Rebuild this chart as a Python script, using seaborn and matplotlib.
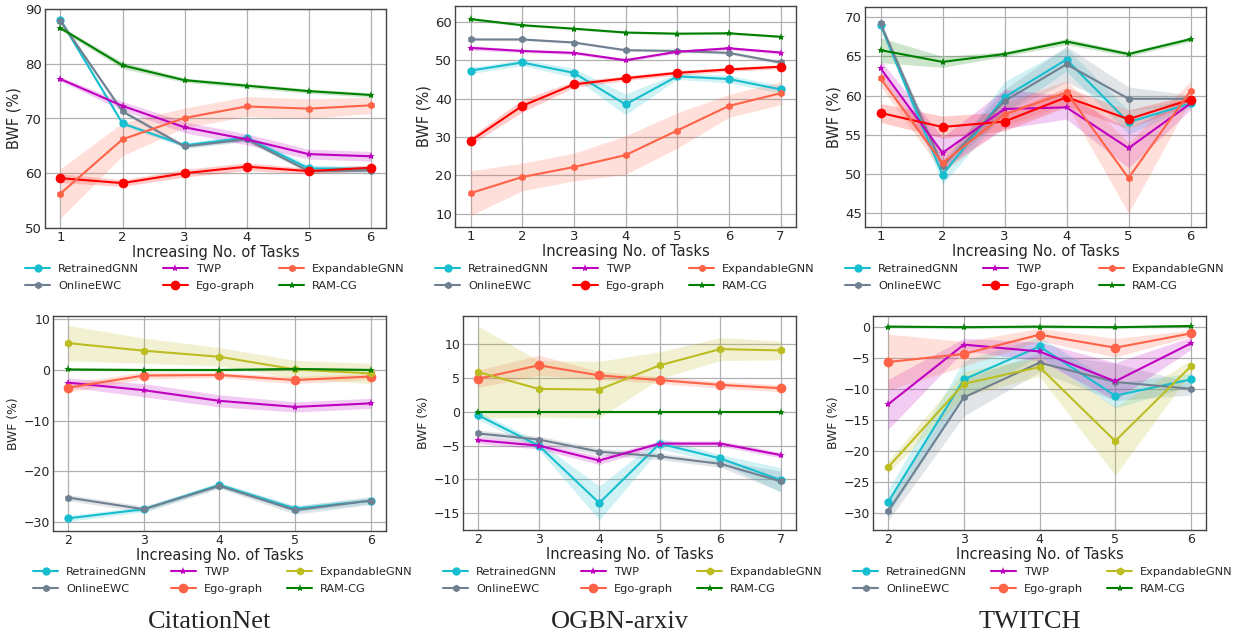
import numpy as np
import pandas as pd
import matplotlib
matplotlib.use("Agg")
import matplotlib.pyplot as plt
import seaborn as sns

methods = ["RetrainedGNN", "OnlineEWC", "TWP", "Ego-graph", "ExpandableGNN", "RAM-CG"]

# ---- top row: BWF per task ----
cn_tasks = [1, 2, 3, 4, 5, 6]
cn_mean = {
    "RetrainedGNN": [88.0, 69.1, 65.1, 66.5, 60.9, 60.8],
    "OnlineEWC": [87.8, 71.3, 64.9, 66.2, 60.4, 60.5],
    "TWP": [77.2, 72.3, 68.4, 66.2, 63.5, 63.1],
    "Ego-graph": [59.1, 58.2, 60.0, 61.2, 60.4, 61.0],
    "ExpandableGNN": [56.3, 66.2, 70.1, 72.2, 71.8, 72.4],
    "RAM-CG": [86.5, 79.7, 77.0, 76.0, 75.0, 74.3],
}
cn_std = {
    "RetrainedGNN": [0.4, 0.4, 0.4, 0.6, 0.6, 0.5],
    "OnlineEWC": [0.4, 0.4, 0.4, 0.4, 0.4, 0.4],
    "TWP": [0.4, 0.8, 1.0, 1.0, 0.9, 0.9],
    "Ego-graph": [0.8, 0.6, 0.7, 0.7, 0.5, 0.5],
    "ExpandableGNN": [4.5, 3.0, 1.8, 1.8, 1.8, 1.5],
    "RAM-CG": [0.4, 0.6, 0.4, 0.4, 0.4, 0.4],
}

arx_tasks = [1, 2, 3, 4, 5, 6, 7]
arx_mean = {
    "RetrainedGNN": [47.3, 49.4, 46.7, 38.5, 45.8, 45.1, 42.4],
    "OnlineEWC": [55.4, 55.4, 54.6, 52.6, 52.4, 51.9, 49.4],
    "TWP": [53.2, 52.4, 51.9, 50.0, 52.2, 53.1, 52.0],
    "Ego-graph": [29.0, 38.1, 43.7, 45.3, 46.7, 47.6, 48.3],
    "ExpandableGNN": [15.4, 19.6, 22.2, 25.3, 31.7, 38.1, 41.4],
    "RAM-CG": [60.7, 59.1, 58.2, 57.2, 56.9, 57.0, 56.1],
}
arx_std = {
    "RetrainedGNN": [0.8, 0.8, 1.2, 2.7, 0.8, 1.0, 1.0],
    "OnlineEWC": [0.3, 0.3, 0.3, 0.3, 0.3, 0.4, 0.5],
    "TWP": [0.6, 0.4, 0.4, 0.4, 0.4, 0.4, 0.4],
    "Ego-graph": [1.0, 1.6, 0.8, 0.6, 0.6, 0.5, 0.5],
    "ExpandableGNN": [5.8, 3.6, 3.6, 5.0, 4.6, 3.0, 3.0],
    "RAM-CG": [0.4, 0.3, 0.3, 0.3, 0.3, 0.3, 0.3],
}

tw_tasks = [1, 2, 3, 4, 5, 6]
tw_mean = {
    "RetrainedGNN": [69.0, 49.9, 59.8, 64.6, 56.6, 59.0],
    "OnlineEWC": [69.2, 51.0, 59.3, 64.0, 59.6, 59.6],
    "TWP": [63.5, 52.7, 58.3, 58.5, 53.3, 59.0],
    "Ego-graph": [57.8, 56.0, 56.7, 59.8, 57.0, 59.5],
    "ExpandableGNN": [62.2, 51.4, 57.6, 60.4, 49.5, 60.6],
    "RAM-CG": [65.8, 64.3, 65.3, 66.9, 65.3, 67.2],
}
tw_std = {
    "RetrainedGNN": [0.3, 1.2, 2.0, 1.5, 1.5, 0.5],
    "OnlineEWC": [0.3, 0.8, 1.5, 2.3, 1.5, 0.5],
    "TWP": [1.0, 2.0, 2.5, 1.5, 2.5, 0.8],
    "Ego-graph": [1.2, 1.4, 1.2, 1.2, 1.2, 0.6],
    "ExpandableGNN": [1.0, 1.2, 1.5, 1.5, 4.5, 1.2],
    "RAM-CG": [1.6, 0.7, 0.3, 0.4, 0.3, 0.3],
}

# ---- bottom row: BWF after each new task ----
cn2_tasks = [2, 3, 4, 5, 6]
cn2_mean = {
    "RetrainedGNN": [-29.3, -27.5, -22.7, -27.4, -25.8],
    "OnlineEWC": [-25.2, -27.5, -22.9, -27.7, -25.8],
    "TWP": [-2.5, -4.0, -6.1, -7.3, -6.6],
    "Ego-graph": [-3.5, -1.1, -1.0, -2.0, -1.3],
    "ExpandableGNN": [5.3, 3.8, 2.6, 0.1, -0.7],
    "RAM-CG": [0.1, 0.0, 0.0, 0.2, 0.0],
}
cn2_std = {
    "RetrainedGNN": [0.6, 0.5, 0.5, 0.6, 0.6],
    "OnlineEWC": [0.6, 0.6, 0.5, 0.8, 0.8],
    "TWP": [0.9, 1.3, 1.2, 1.0, 1.0],
    "Ego-graph": [0.9, 0.7, 0.5, 0.7, 0.6],
    "ExpandableGNN": [3.5, 2.5, 1.8, 1.8, 2.0],
    "RAM-CG": [0.2, 0.2, 0.2, 0.2, 0.2],
}

arx2_tasks = [2, 3, 4, 5, 6, 7]
arx2_mean = {
    "RetrainedGNN": [-0.5, -5.0, -13.5, -4.7, -6.9, -10.1],
    "OnlineEWC": [-3.2, -4.1, -5.9, -6.6, -7.7, -10.3],
    "TWP": [-4.2, -5.0, -7.2, -4.7, -4.7, -6.4],
    "Ego-graph": [4.9, 6.9, 5.4, 4.7, 4.0, 3.5],
    "ExpandableGNN": [5.9, 3.4, 3.3, 6.9, 9.3, 9.1],
    "RAM-CG": [0.0, 0.0, 0.0, 0.0, 0.0, 0.0],
}
arx2_std = {
    "RetrainedGNN": [0.6, 0.6, 2.5, 0.8, 0.6, 1.8],
    "OnlineEWC": [0.5, 0.5, 0.5, 0.5, 0.5, 1.5],
    "TWP": [0.5, 0.5, 0.6, 0.4, 0.4, 0.4],
    "Ego-graph": [1.3, 1.5, 0.6, 0.5, 0.5, 0.5],
    "ExpandableGNN": [6.8, 4.2, 4.2, 2.0, 1.7, 1.4],
    "RAM-CG": [0.1, 0.1, 0.1, 0.1, 0.1, 0.1],
}

tw2_tasks = [2, 3, 4, 5, 6]
tw2_mean = {
    "RetrainedGNN": [-28.2, -8.5, -3.2, -11.1, -8.5],
    "OnlineEWC": [-29.7, -11.4, -5.8, -8.9, -10.0],
    "TWP": [-12.5, -2.9, -4.0, -8.8, -2.7],
    "Ego-graph": [-5.7, -4.4, -1.3, -3.4, -1.1],
    "ExpandableGNN": [-22.6, -9.2, -6.5, -18.4, -6.4],
    "RAM-CG": [0.0, -0.1, 0.0, -0.1, 0.1],
}
tw2_std = {
    "RetrainedGNN": [2.0, 3.0, 1.5, 2.0, 1.0],
    "OnlineEWC": [1.5, 3.0, 1.5, 3.0, 1.0],
    "TWP": [4.0, 1.0, 1.5, 3.0, 1.0],
    "Ego-graph": [4.5, 2.0, 1.0, 1.5, 0.5],
    "ExpandableGNN": [1.0, 2.0, 1.5, 5.5, 1.0],
    "RAM-CG": [0.2, 0.2, 0.2, 0.2, 0.2],
}

dataset_names = ["CitationNet", "OGBN-arxiv", "TWITCH"]

top_colors = {"RetrainedGNN": "#17becf", "OnlineEWC": "#708090", "TWP": "#c000c0",
              "Ego-graph": "#ff0000", "ExpandableGNN": "#ff6347", "RAM-CG": "#008000"}
bot_colors = {"RetrainedGNN": "#17becf", "OnlineEWC": "#708090", "TWP": "#c000c0",
              "Ego-graph": "#ff6347", "ExpandableGNN": "#bcbd22", "RAM-CG": "#008000"}
markers = {"RetrainedGNN": "o", "OnlineEWC": "h", "TWP": "*",
           "Ego-graph": "o", "ExpandableGNN": "h", "RAM-CG": "*"}
top_msize = {"RetrainedGNN": 6, "OnlineEWC": 5.5, "TWP": 6,
             "Ego-graph": 7, "ExpandableGNN": 5.5, "RAM-CG": 6}
bot_msize = {"RetrainedGNN": 6, "OnlineEWC": 5.5, "TWP": 6,
             "Ego-graph": 7, "ExpandableGNN": 6, "RAM-CG": 6}

sns.set_theme(style="whitegrid", rc={
    "grid.color": "#b0b0b0", "grid.linewidth": 0.9,
    "axes.edgecolor": "#444444", "axes.linewidth": 1.0,
    "xtick.major.size": 0, "ytick.major.size": 0,
})
plt.rcParams["font.family"] = ["DejaVu Sans"]

fig = plt.figure(figsize=(12.34, 6.37), dpi=100)
W, H = 1234.0, 637.0


def add_ax(l, t, r, b):
    return fig.add_axes([l / W, 1 - b / H, (r - l) / W, (b - t) / H])


def draw(ax, tasks, mean, std, colors, msize):
    for m in methods:
        df = pd.DataFrame({"task": tasks, "bwf": mean[m]})
        sns.lineplot(data=df, x="task", y="bwf", ax=ax, color=colors[m],
                     marker=markers[m], markersize=msize[m], markeredgewidth=0,
                     linewidth=1.5, label=m)
        lo = np.array(mean[m]) - np.array(std[m])
        hi = np.array(mean[m]) + np.array(std[m])
        ax.fill_between(tasks, lo, hi, color=colors[m], alpha=0.2, linewidth=0)


top_data = [(cn_tasks, cn_mean, cn_std, (50, 90), np.arange(50, 91, 10)),
            (arx_tasks, arx_mean, arx_std, (6.6, 64.1), np.arange(10, 61, 10)),
            (tw_tasks, tw_mean, tw_std, (43.25, 71.3), np.arange(45, 71, 5))]
bot_data = [(cn2_tasks, cn2_mean, cn2_std, (-31.8, 10.65), np.arange(-30, 11, 10)),
            (arx2_tasks, arx2_mean, arx2_std, (-17.5, 14.2), np.arange(-15, 11, 5)),
            (tw2_tasks, tw2_mean, tw2_std, (-32.7, 1.7), np.arange(-30, 1, 5))]

top_boxes = [(45, 9, 386, 228), (455, 6, 796, 227), (865, 7, 1206, 227)]
bot_boxes = [(53, 316, 386, 531), (463, 316, 796, 530), (873, 316, 1206, 530)]
top_leg = [25, 435, 845]
bot_leg = [33, 443, 853]
title_x = [210, 620, 1030]

leg_kw = dict(loc="upper left", ncol=3, frameon=False, fontsize=8.2, borderpad=0,
              borderaxespad=0, labelspacing=0.6, columnspacing=2.1,
              handlelength=2.2, handletextpad=0.7)

for i in range(3):
    # top row
    tasks, mean, std, ylim, yt = top_data[i]
    ax = add_ax(*top_boxes[i])
    draw(ax, tasks, mean, std, top_colors, top_msize)
    ax.set_ylim(*ylim)
    ax.set_yticks(yt)
    ax.set_xticks(tasks)
    ax.tick_params(labelsize=9.5, pad=2, length=0)
    ax.set_xlabel("Increasing No. of Tasks", fontsize=10.5, labelpad=1)
    ax.set_ylabel("BWF (%)", fontsize=10.5, labelpad=3)
    h, l = ax.get_legend_handles_labels()
    ax.get_legend().remove()
    fig.legend(h, l, bbox_to_anchor=(top_leg[i] / W, 1 - 264 / H), **leg_kw)

    # bottom row
    tasks, mean, std, ylim, yt = bot_data[i]
    ax = add_ax(*bot_boxes[i])
    draw(ax, tasks, mean, std, bot_colors, bot_msize)
    ax.set_ylim(*ylim)
    ax.set_yticks(yt)
    ax.set_xticks(tasks)
    ax.tick_params(labelsize=9, pad=2, length=0)
    ax.set_xlabel("Increasing No. of Tasks", fontsize=10.5, labelpad=1)
    ax.set_ylabel("BWF (%)", fontsize=8.9, labelpad=3)
    h, l = ax.get_legend_handles_labels()
    ax.get_legend().remove()
    fig.legend(h, l, bbox_to_anchor=(bot_leg[i] / W, 1 - 567 / H), **leg_kw)

    fig.text(title_x[i] / W, 1 - 622 / H, dataset_names[i], ha="center", va="center",
             fontsize=19, family=["Liberation Serif", "DejaVu Serif"])

fig.savefig("out.png", dpi=100)
